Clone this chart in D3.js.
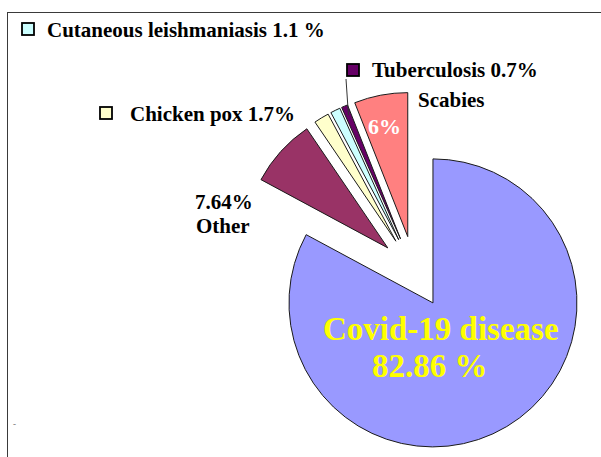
<!DOCTYPE html>
<html>
<head>
<meta charset="utf-8">
<script src="https://cdn.jsdelivr.net/npm/d3@7"></script>
<style>
  html, body { margin: 0; padding: 0; background: #fff; }
  svg { display: block; }
  text { font-family: "Liberation Serif", "Times New Roman", serif; font-weight: bold; }
</style>
</head>
<body>
<svg id="chart" width="601" height="457"></svg>
<script>
// ---- data ----
const categories = ["Covid-19 disease", "Other", "Chicken pox", "Cutaneous leishmaniasis", "Tuberculosis", "Scabies"];
const values = [82.86, 7.64, 1.7, 1.1, 0.7, 6];
const colors = ["#9999ff", "#993366", "#ffffcc", "#ccffff", "#660066", "#ff8080"];
const legendLabels = ["Cutaneous leishmaniasis 1.1 %", "Tuberculosis 0.7%", "Chicken pox 1.7%"];

// ---- layout ----
const W = 601, H = 457;
const svg = d3.select("#chart");
const cx = 414.5, cy = 272, R = 144, explode = 36;

// frame (extends past right and bottom edges)
svg.append("rect")
  .attr("x", 7.5).attr("y", 12.5)
  .attr("width", W + 20).attr("height", H + 20)
  .attr("fill", "none").attr("stroke", "#3a3a3a").attr("stroke-width", 1);

const data = categories.map((c, i) => ({ name: c, value: values[i], color: colors[i] }));
const pie = d3.pie().sort(null).value(d => d.value).startAngle(0).endAngle(2 * Math.PI);
const arc = d3.arc().innerRadius(0).outerRadius(R);
const arcs = pie(data);

const g = svg.append("g").attr("transform", `translate(${cx},${cy})`);
g.selectAll("path.slice")
  .data(arcs)
  .join("path")
  .attr("class", "slice")
  .attr("d", arc)
  .attr("transform", d => {
    const m = (d.startAngle + d.endAngle) / 2;
    return `translate(${Math.sin(m) * explode},${-Math.cos(m) * explode})`;
  })
  .attr("fill", d => d.data.color)
  .attr("stroke", "#1a1a1a")
  .attr("stroke-width", 1)
  .attr("stroke-linejoin", "miter");

// ---- legend-like labels with boxes ----
const legendItems = [
  { label: legendLabels[0], color: colors[3], bx: 22, by: 23, tx: 47, ty: 37 },
  { label: legendLabels[1], color: colors[4], bx: 347, by: 64, tx: 372, ty: 77 },
  { label: legendLabels[2], color: colors[2], bx: 100, by: 107, tx: 130, ty: 121 }
];
legendItems.forEach(it => {
  svg.append("rect")
    .attr("x", it.bx).attr("y", it.by).attr("width", 12).attr("height", 12)
    .attr("fill", it.color).attr("stroke", "#000").attr("stroke-width", 1.8);
  svg.append("text")
    .attr("x", it.tx).attr("y", it.ty)
    .attr("font-size", 21).attr("fill", "#000")
    .text(it.label);
});

// leader line from Tuberculosis label to its slice
const tb = arcs[4];
const tbMid = (tb.startAngle + tb.endAngle) / 2;
const tbR = R - 10;
svg.append("line")
  .attr("x1", 346).attr("y1", 79)
  .attr("x2", cx + Math.sin(tbMid) * (tbR + explode))
  .attr("y2", cy - Math.cos(tbMid) * (tbR + explode))
  .attr("stroke", "#333").attr("stroke-width", 1);

// other labels
svg.append("text").attr("x", 418).attr("y", 107).attr("font-size", 21).attr("fill", "#000").text("Scabies");
svg.append("text").attr("x", 368).attr("y", 134).attr("font-size", 22).attr("fill", "#fff").text(values[5] + "%");
svg.append("text").attr("x", 195).attr("y", 209).attr("font-size", 21).attr("fill", "#000").text(values[1] + "%");
svg.append("text").attr("x", 196).attr("y", 233).attr("font-size", 21).attr("fill", "#000").text("Other");
svg.append("text").attr("x", 323).attr("y", 340).attr("font-size", 33).attr("fill", "#ffff00").text(categories[0]);
svg.append("text").attr("x", 372).attr("y", 377).attr("font-size", 33).attr("fill", "#ffff00").text(values[0] + " %");

// stray tiny dash near bottom-left
svg.append("text").attr("x", 13).attr("y", 427).attr("font-size", 9).attr("font-weight", "normal").attr("fill", "#777").text("-");
</script>
</body>
</html>
